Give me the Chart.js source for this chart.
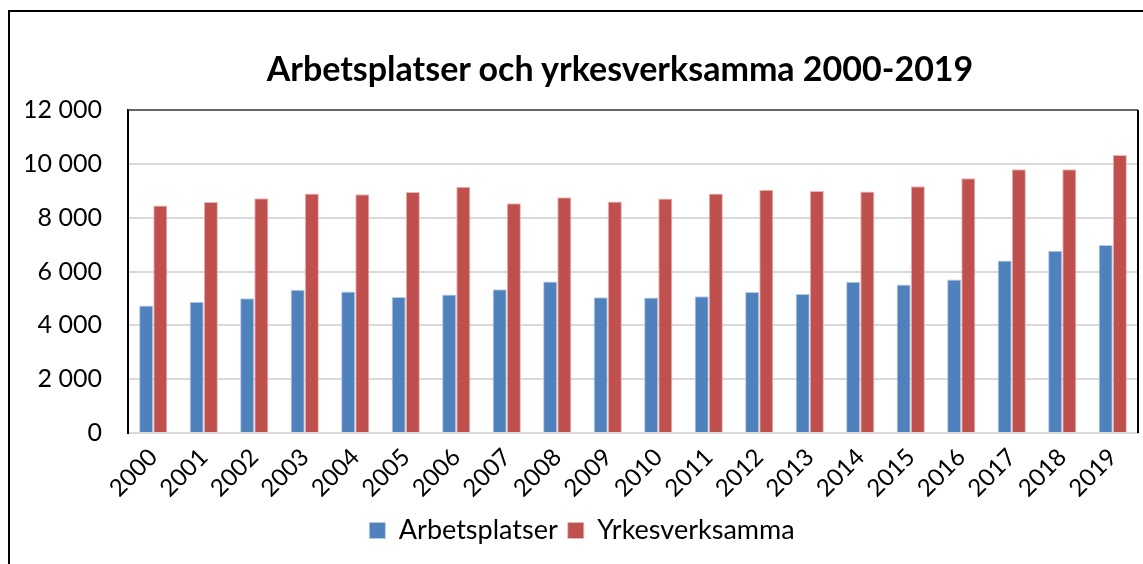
<!DOCTYPE html>
<html>
<head>
<meta charset="utf-8">
<script src="https://cdn.jsdelivr.net/npm/chart.js@4"></script>
<style>
  body { margin: 0; background: #fff; }
  #wrap { position: relative; width: 1143px; height: 564px; overflow: hidden; }
  #frame { position: absolute; left: 8px; top: 10px; width: 1160px; height: 580px; border: 2px solid #000; pointer-events: none; }
  #title { position: absolute; left: 220px; width: 800px; top: 48px; text-align: center;
           font: bold 34px Lato, sans-serif; line-height: 40px; color: #000; }
</style>
</head>
<body>
<div id="wrap">
  <canvas id="chart1" width="1143" height="564"></canvas>
  <div id="title">Arbetsplatser och yrkesverksamma 2000-2019</div>
  <div id="frame"></div>
</div>
<script>
const years = ['2000','2001','2002','2003','2004','2005','2006','2007','2008','2009',
               '2010','2011','2012','2013','2014','2015','2016','2017','2018','2019'];

const data_arbets = [4740, 4880, 5010, 5320, 5260, 5050, 5150, 5340, 5630, 5040,
                     5030, 5080, 5240, 5160, 5620, 5520, 5700, 6410, 6770, 6980];

const data_yrkes = [8450, 8580, 8720, 8900, 8870, 8950, 9150, 8540, 8760, 8600,
                    8710, 8900, 9040, 8990, 8970, 9170, 9460, 9800, 9800, 10330];

const yTicks = [0, 2000, 4000, 6000, 8000, 10000, 12000];

const FONT = 'Lato';

// frame around plot area (top + right edges)
const plotBorder = {
  id: 'plotBorder',
  afterDraw(chart) {
    const a = chart.chartArea;
    const ctx = chart.ctx;
    ctx.save();
    ctx.strokeStyle = '#404040';
    ctx.lineWidth = 1.5;
    ctx.beginPath();
    ctx.moveTo(a.left, a.top);
    ctx.lineTo(a.right, a.top);
    ctx.stroke();
    ctx.strokeStyle = '#000';
    ctx.lineWidth = 2;
    ctx.beginPath();
    ctx.moveTo(a.right, a.top);
    ctx.lineTo(a.right, a.bottom);
    ctx.stroke();
    ctx.restore();
  }
};

const config = {
  type: 'bar',
  data: {
    labels: years,
    datasets: [{
      label: 'Arbetsplatser',
      backgroundColor: '#4f81bd',
      borderColor: '#b9cde5',
      borderWidth: {left: 1, right: 1, top: 1, bottom: 0},
      data: data_arbets,
      categoryPercentage: 0.56,
      barPercentage: 1.0
    }, {
      label: 'Yrkesverksamma',
      backgroundColor: '#c0504d',
      borderColor: '#e6b9b8',
      borderWidth: {left: 1, right: 1, top: 1, bottom: 0},
      data: data_yrkes,
      categoryPercentage: 0.56,
      barPercentage: 1.0
    }]
  },
  options: {
    responsive: false,
    animation: false,
    layout: { padding: { left: 26, right: 5, top: 110, bottom: 10 } },
    plugins: {
      title: { display: false },
      legend: {
        position: 'bottom',
        labels: {
          color: '#000',
          font: { family: FONT, size: 27 },
          boxWidth: 16,
          boxHeight: 16,
          padding: 10
        }
      },
      tooltip: { enabled: false }
    },
    scales: {
      x: {
        grid: { display: false },
        border: { color: '#d9d9d9', width: 2 },
        ticks: {
          color: '#000',
          font: { family: FONT, size: 24 },
          minRotation: 45,
          maxRotation: 45,
          padding: 2
        },
        afterFit(s) { s.height = 74; }
      },
      y: {
        min: 0,
        max: 12000,
        afterBuildTicks(s) { s.ticks = yTicks.map(v => ({ value: v })); },
        grid: { color: '#d9d9d9', lineWidth: 2, drawTicks: false },
        border: { color: '#000', width: 2 },
        ticks: {
          color: '#000',
          font: { family: FONT, size: 25 },
          padding: 26,
          callback: v => v.toLocaleString('sv-SE').replace(/\s/g, ' ')
        },
        afterFit(s) { s.width = 102; }
      }
    }
  },
  plugins: [plotBorder]
};

const chart1 = new Chart(document.getElementById('chart1'), config);
</script>
</body>
</html>
